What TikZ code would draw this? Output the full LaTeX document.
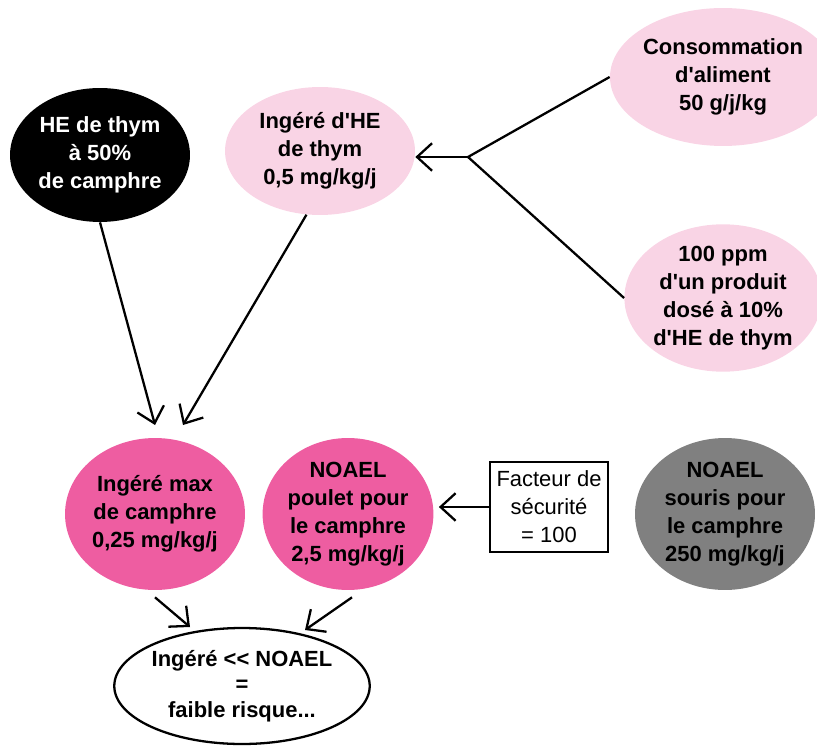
\documentclass[tikz,border=0pt]{standalone}
\usepackage{fontspec}
\setmainfont{Liberation Sans}
\usetikzlibrary{shapes.geometric,arrows.meta}
\definecolor{palepink}{HTML}{F9D4E5}
\definecolor{hotpink}{HTML}{EE5DA1}
\definecolor{mousegray}{HTML}{808080}
\tikzset{
  bubble/.style={ellipse, inner sep=0pt, align=center,
    font=\bfseries\fontsize{12.5}{16}\selectfont},
  link/.style={line width=1.3pt},
  arr/.style={link, -{Straight Barb[length=3mm,width=5.5mm]}}
}
\begin{document}
\begin{tikzpicture}[x=0.02cm, y=-0.02cm]
    \useasboundingbox (0,0) rectangle (817,749);

    % top row
    \node[bubble, fill=black, text=white, minimum width=3.6cm, minimum height=2.68cm] (he) at (100,155)
        {HE de thym\\ à 50\%\\ de camphre};
    \node[bubble, fill=palepink, minimum width=3.8cm, minimum height=2.56cm] (ing) at (320,151)
        {Ingéré d\textquotesingle HE\\ de thym\\ 0,5 mg/kg/j};
    \node[bubble, fill=palepink, minimum width=3.6cm, minimum height=2.76cm] (cons) at (723,77)
        {Consommation\\ d\textquotesingle aliment\\ 50 g/j/kg};
    \node[bubble, fill=palepink, minimum width=3.6cm, minimum height=2.8cm] (ppm) at (723,298)
        {100 ppm\\ d\textquotesingle un produit\\ dosé à 10\%\\ d\textquotesingle HE de thym};

    % middle row
    \node[bubble, fill=hotpink, minimum width=3.6cm, minimum height=3.04cm] (max) at (155,514)
        {Ingéré max\\ de camphre\\ 0,25 mg/kg/j};
    \node[bubble, fill=hotpink, minimum width=3.32cm, minimum height=3.04cm] (poulet) at (348,514)
        {NOAEL\\ poulet pour\\ le camphre\\ 2,5 mg/kg/j};
    \node[draw, line width=1.3pt, align=center, minimum width=2.36cm, minimum height=1.8cm,
        inner sep=0pt, font=\fontsize{12.5}{16}\selectfont] (facteur) at (549,507)
        {Facteur de\\ sécurité\\ = 100};
    \node[bubble, fill=mousegray, minimum width=3.6cm, minimum height=3.04cm] (souris) at (725,514)
        {NOAEL\\ souris pour\\ le camphre\\ 250 mg/kg/j};

    % bottom
    \node[bubble, draw, line width=1.3pt, minimum width=4.8cm, minimum height=2.32cm,
        font=\bfseries\fontsize{12.5}{14.5}\selectfont] (risk) at (242,686)
        {Ingéré {<}{<} NOAEL\\ =\\ faible risque...};

    % connectors
    \coordinate (fork) at (468,157);
    \coordinate (tipA) at (155,425);
    \coordinate (tipB) at (183,425);
    \coordinate (tipC) at (190,627);
    \coordinate (tipD) at (305,630);

    \draw[link] (cons.west) -- (fork) -- (ppm.west);
    \draw[arr] (fork) -- (ing.east |- fork);
    \draw[arr] (he.south) -- (tipA);
    \draw[arr] (ing.258) -- (tipB);
    \draw[arr] (facteur.west) -- ++(-50,0);
    \draw[arr] (max.south) ++(0,7) -- (tipC);
    \draw[arr] (poulet.south) ++(4,7) -- (tipD);
\end{tikzpicture}
\end{document}
